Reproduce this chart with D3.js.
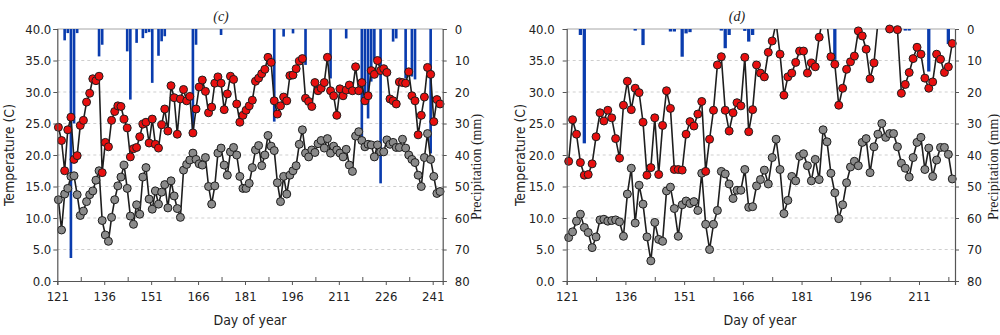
<!DOCTYPE html>
<html>
<head>
<meta charset="utf-8">
<script src="https://cdn.jsdelivr.net/npm/d3@7/dist/d3.min.js"></script>
<style>
  body { margin: 0; background: #fff; }
  svg { display: block; }
  .tick text { font-family: "DejaVu Sans Condensed", "DejaVu Sans", sans-serif; font-size: 13px; fill: #222; }
  .lbl { font-family: "DejaVu Sans Condensed", "DejaVu Sans", sans-serif; font-size: 14px; fill: #222; }
  .serif { font-family: "Liberation Serif", "DejaVu Serif", serif; font-size: 14px; fill: #222; }
</style>
</head>
<body>
<svg id="chart" width="1000" height="335"></svg>
<script>
// first day of both series (day of year)
const firstDay = 121;

// panel (c): daily max / min temperature, days 121..243
const tmaxC = [24.4, 22.3, 17.5, 24.0, 26.0, 19.3, 19.9, 24.7, 25.5, 28.4, 29.8, 32.1, 31.8, 32.5, 17.2, 22.0, 21.3, 25.5, 26.9, 27.8,
  27.7, 25.7, 24.3, 19.7, 21.0, 21.2, 22.9, 24.9, 25.2, 21.9, 25.7, 21.7, 21.1, 24.8, 27.3, 23.8, 31.0, 29.1, 23.3, 28.9,
  30.4, 28.6, 29.3, 23.5, 27.3, 30.8, 31.9, 30.1, 26.7, 27.6, 31.4, 32.4, 31.4, 27.2, 29.7, 32.5, 32.0, 28.1, 25.2, 26.3,
  27.1, 27.8, 28.7, 31.7, 32.2, 32.9, 33.6, 35.5, 34.7, 28.6, 26.5, 27.8, 29.2, 28.6, 32.6, 32.7, 33.7, 34.9, 35.3, 29.0,
  28.5, 27.7, 31.5, 30.2, 30.6, 31.5, 35.5, 30.2, 29.4, 26.3, 30.5, 29.4, 30.3, 31.1, 30.2, 34.0, 30.2, 31.5, 28.6, 29.4,
  33.4, 32.8, 35.0, 33.4, 33.7, 33.1, 28.9, 28.6, 28.1, 31.6, 31.5, 31.4, 33.2, 29.4, 28.6, 23.2, 26.3, 29.2, 33.9, 32.8,
  25.3, 28.8, 28.1];
const tminC = [12.9, 8.1, 13.8, 14.7, 16.6, 16.7, 13.7, 10.4, 11.1, 12.6, 13.7, 14.3, 16.0, 17.5, 9.6, 7.3, 6.3, 10.1, 12.9, 15.1,
  16.5, 18.4, 14.7, 10.3, 9.0, 12.1, 10.6, 16.5, 18.0, 13.0, 11.4, 14.3, 12.2, 14.1, 15.3, 11.6, 15.9, 13.5, 11.5, 10.1,
  17.6, 18.5, 19.2, 20.3, 19.3, 18.6, 18.4, 19.6, 15.0, 12.2, 15.1, 20.3, 21.1, 18.4, 16.8, 20.5, 21.2, 20.0, 16.6, 14.7,
  14.7, 15.5, 18.0, 20.8, 21.5, 18.3, 20.0, 23.1, 21.4, 20.7, 15.6, 12.6, 16.6, 13.8, 16.8, 17.5, 18.3, 21.7, 24.0, 20.3,
  19.7, 20.8, 20.4, 21.8, 22.3, 21.1, 22.6, 20.3, 21.4, 20.8, 20.3, 19.7, 20.9, 18.4, 17.4, 23.0, 23.7, 22.3, 21.3, 21.7,
  21.6, 19.7, 21.6, 20.5, 20.5, 22.4, 21.7, 22.0, 21.2, 21.2, 22.5, 21.1, 20.0, 19.3, 18.8, 16.8, 15.0, 19.6, 23.4, 19.3,
  16.6, 13.9, 14.2];
// panel (c): rain days and amounts (mm)
const rainDaysC = [123, 124, 125, 126, 127, 134, 135, 143, 144, 146, 148, 149, 150, 151, 153, 154, 155, 164, 165, 173,
  190, 193, 196, 200, 208, 213, 218, 219, 220, 221, 222, 224, 228, 229, 232, 234, 235, 240];
const rainC = [3.6, 1.3, 72.7, 30.0, 1.3, 8.7, 5.0, 7.1, 22.4, 4.4, 2.9, 1.3, 1.0, 17.1, 8.5, 3.9, 2.3, 33.0, 5.0, 1.9,
  29.4, 2.4, 1.4, 11.4, 15.7, 3.0, 35.8, 23.6, 28.4, 16.7, 9.8, 49.0, 4.0, 3.0, 15.7, 15.1, 16.0, 39.5];

// panel (d): daily max / min temperature, days 121..219
const tmaxD = [19.0, 25.6, 23.3, 18.8, 16.8, 16.9, 18.6, 22.9, 26.7, 25.4, 27.1, 25.9, 22.6, 19.5, 27.9, 31.7, 27.2, 30.6, 29.9, 25.2,
  16.8, 18.0, 25.9, 16.9, 24.7, 30.2, 27.4, 17.7, 17.7, 17.6, 23.3, 25.3, 24.6, 26.5, 28.5, 17.4, 22.5, 27.1, 34.3, 35.6,
  27.1, 23.8, 26.7, 28.3, 27.8, 35.5, 23.7, 27.2, 34.3, 33.0, 32.4, 36.3, 38.1, 41.0, 36.0, 29.5, 32.4, 33.0, 34.7, 36.5,
  36.5, 33.0, 34.6, 34.0, 38.7, 42.0, 41.0, 35.6, 34.4, 27.9, 30.6, 33.6, 34.8, 35.7, 39.7, 38.9, 36.8, 32.1, 34.6, 41.0,
  42.0, 41.0, 40.0, 40.6, 39.9, 29.8, 31.2, 33.1, 35.3, 37.1, 36.0, 32.2, 30.6, 31.6, 36.0, 35.2, 33.1, 34.0, 37.7];
const tminD = [6.9, 7.8, 9.5, 10.6, 8.5, 7.7, 5.3, 7.0, 9.7, 9.8, 9.5, 9.6, 9.7, 9.4, 7.1, 13.8, 17.9, 9.2, 15.2, 12.2,
  7.0, 3.2, 9.3, 6.6, 6.3, 14.3, 14.9, 11.5, 7.1, 12.1, 12.7, 12.3, 12.6, 11.2, 17.1, 9.0, 5.0, 9.0, 11.2, 17.4,
  17.0, 15.4, 13.1, 14.4, 14.4, 17.7, 11.7, 11.8, 15.1, 16.1, 17.6, 15.4, 19.6, 22.5, 17.7, 10.7, 12.8, 16.6, 15.9, 19.8,
  20.2, 18.3, 15.9, 19.3, 16.1, 24.0, 22.1, 17.1, 14.0, 9.9, 12.1, 15.6, 18.1, 19.0, 18.3, 22.0, 22.6, 17.2, 21.3, 23.3,
  25.0, 22.8, 23.4, 23.4, 21.3, 18.7, 17.9, 16.5, 19.6, 22.0, 22.8, 17.7, 21.1, 16.6, 19.2, 21.2, 21.2, 20.1, 16.2];
// panel (d): rain days and amounts (mm)
const rainDaysD = [124, 125, 138, 140, 147, 148, 150, 151, 152, 160, 161, 162, 166, 167, 168, 189, 207, 208, 213, 218];
const rainD = [1.9, 36.3, 0.5, 5.1, 0.8, 0.8, 8.8, 1.4, 1.0, 0.5, 6.1, 1.9, 0.6, 4.0, 1.9, 9.8, 0.5, 0.5, 13.5, 4.8];

// ticks
const dayTicksC = [121, 136, 151, 166, 181, 196, 211, 226, 241];
const dayTicksD = [121, 136, 151, 166, 181, 196, 211];
const tempTicks = [0, 5, 10, 15, 20, 25, 30, 35, 40];
const rainTicks = [0, 10, 20, 30, 40, 50, 60, 70, 80];

const svg = d3.select("#chart");

function drawPanel(p) {
  const x = d3.scaleLinear().domain([firstDay, p.lastDay]).range([p.left, p.right]);
  const yT = d3.scaleLinear().domain([0, 40]).range([p.bottom, p.top]);
  const yP = d3.scaleLinear().domain([0, 80]).range([p.top, p.bottom]);
  const dayW = x(firstDay + 1) - x(firstDay);
  const px = i => x(firstDay + i + p.shift);

  const g = svg.append("g");

  g.append("clipPath").attr("id", "clip" + p.name)
    .append("rect").attr("x", p.left).attr("y", p.top)
    .attr("width", p.right - p.left).attr("height", p.bottom - p.top);

  // dashed grid
  g.append("g").selectAll("line")
    .data(tempTicks.filter(t => t > 0 && t < 40))
    .join("line")
    .attr("x1", p.left).attr("x2", p.right)
    .attr("y1", d => yT(d)).attr("y2", d => yT(d))
    .attr("stroke", "#cfcfcf").attr("stroke-dasharray", "3,3");

  // top border
  g.append("line").attr("x1", p.left).attr("x2", p.right)
    .attr("y1", p.top).attr("y2", p.top).attr("stroke", "#a6a6a6");

  // precipitation bars hanging from the top
  g.append("g").selectAll("rect")
    .data(p.rainDays.map((d, i) => ({ d, v: p.rain[i] })))
    .join("rect")
    .attr("x", r => x(r.d + p.shift) - dayW * 0.42)
    .attr("width", dayW * 0.84)
    .attr("y", yP(0))
    .attr("height", r => yP(r.v) - yP(0))
    .attr("fill", "#0a3cae");

  const line = d3.line().x((v, i) => px(i)).y(v => yT(v));
  const series = [
    { vals: p.tmin, fill: "#8a8a8a" },
    { vals: p.tmax, fill: "#e80f0f" }
  ];
  series.forEach(s => {
    g.append("path").datum(s.vals)
      .attr("clip-path", "url(#clip" + p.name + ")")
      .attr("d", line).attr("fill", "none")
      .attr("stroke", "#1e1e1e").attr("stroke-width", 1.6);
    g.append("g").selectAll("circle")
      .data(s.vals.map((v, i) => ({ v, i })).filter(o => o.v <= 40))
      .join("circle")
      .attr("cx", o => px(o.i)).attr("cy", o => yT(o.v)).attr("r", 4)
      .attr("fill", s.fill).attr("stroke", "#1e1e1e").attr("stroke-width", 1);
  });

  // axes
  const axL = g.append("g").attr("transform", `translate(${p.left},0)`)
    .call(d3.axisLeft(yT).tickValues(tempTicks).tickFormat(d3.format(".1f")).tickSize(4).tickPadding(p.leftPad));
  const axR = g.append("g").attr("transform", `translate(${p.right},0)`)
    .call(d3.axisRight(yP).tickValues(rainTicks).tickSize(4).tickPadding(8));
  const axB = g.append("g").attr("transform", `translate(0,${p.bottom})`)
    .call(d3.axisBottom(x).tickValues(p.dayTicks).tickFormat(d3.format("d")).tickSize(4).tickPadding(7));
  const minor = p.dayTicks.map(t => t + 7.5).filter(t => t < p.lastDay);
  g.append("g").attr("transform", `translate(0,${p.bottom})`)
    .call(d3.axisBottom(x).tickValues(minor).tickFormat("").tickSize(-4))
    .call(a => a.select(".domain").remove());
  [axL, axR, axB].forEach(a => {
    a.select(".domain").attr("stroke", "#555").attr("stroke-width", 1.2);
    a.selectAll(".tick line").attr("stroke", "#555");
  });
  g.selectAll(".tick line").attr("stroke", "#555");

  // labels
  g.append("text").attr("class", "lbl")
    .attr("transform", `translate(${p.tempLabelX},${(p.top + p.bottom) / 2}) rotate(-90)`)
    .attr("text-anchor", "middle").attr("dy", "0.35em").text("Temperature (C)");
  g.append("text").attr("class", "serif")
    .attr("transform", `translate(${p.rainLabelX},167) rotate(-90)`)
    .attr("text-anchor", "middle").attr("dy", "0.35em").text("Precipitation (mm)");
  g.append("text").attr("class", "lbl")
    .attr("x", p.dayLabelX).attr("y", 325).attr("text-anchor", "middle").text("Day of year");
  g.append("text").attr("class", "serif").style("font-style", "italic")
    .attr("x", p.titleX).attr("y", 21).attr("text-anchor", "middle").text(p.title);
}

drawPanel({
  name: "c", left: 57.3, right: 442.7, top: 29, bottom: 281, lastDay: 244.2, shift: 0.35,
  tmax: tmaxC, tmin: tminC, rainDays: rainDaysC, rain: rainC, dayTicks: dayTicksC, leftPad: 2,
  tempLabelX: 9, rainLabelX: 476, dayLabelX: 250, title: "(c)", titleX: 221
});
drawPanel({
  name: "d", left: 566.7, right: 955, top: 29, bottom: 281, lastDay: 220.2, shift: 0.5,
  tmax: tmaxD, tmin: tminD, rainDays: rainDaysD, rain: rainD, dayTicks: dayTicksD, leftPad: 8,
  tempLabelX: 520, rainLabelX: 993, dayLabelX: 760, title: "(d)", titleX: 737
});
</script>
</body>
</html>
